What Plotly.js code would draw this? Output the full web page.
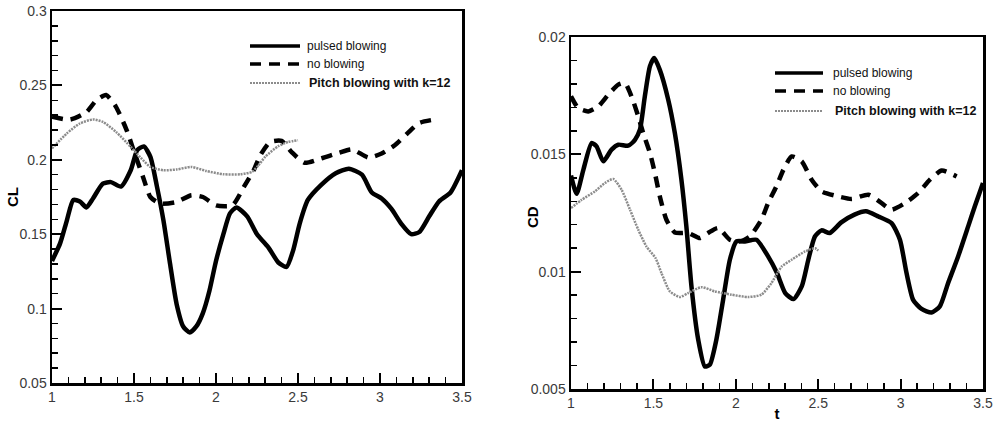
<!DOCTYPE html>
<html>
<head>
<meta charset="utf-8">
<script src="https://cdn.plot.ly/plotly-3.0.1.min.js"></script>
<style>
html,body{margin:0;padding:0;background:#fff;}
#chart{width:1003px;height:422px;}
</style>
</head>
<body>
<div id="chart"></div>
<script>
// ---- Left panel: lift coefficient CL ----
const clPulsedT = [1.0,1.05,1.09,1.13,1.17,1.21,1.25,1.31,1.36,1.42,1.48,1.52,1.56,1.60,1.64,1.68,1.72,1.76,1.80,1.84,1.88,1.92,1.96,2.0,2.045,2.085,2.125,2.19,2.25,2.32,2.38,2.43,2.47,2.51,2.56,2.64,2.73,2.81,2.89,2.95,3.01,3.07,3.13,3.19,3.24,3.30,3.36,3.43,3.5];
const clPulsedV = [0.132,0.144,0.159,0.173,0.172,0.168,0.174,0.184,0.185,0.182,0.193,0.2065,0.209,0.202,0.182,0.159,0.130,0.103,0.088,0.084,0.088,0.097,0.112,0.132,0.150,0.164,0.168,0.162,0.150,0.141,0.131,0.128,0.139,0.157,0.173,0.183,0.191,0.194,0.190,0.178,0.174,0.167,0.157,0.150,0.1515,0.162,0.172,0.178,0.193];

const clNoT = [1.0,1.11,1.21,1.27,1.33,1.39,1.455,1.505,1.555,1.60,1.66,1.76,1.85,1.92,2.0,2.10,2.17,2.23,2.27,2.33,2.40,2.46,2.54,2.64,2.75,2.83,2.93,3.01,3.09,3.17,3.24,3.335];
const clNoV = [0.229,0.227,0.232,0.240,0.2435,0.2356,0.220,0.204,0.1885,0.175,0.1706,0.1717,0.1762,0.175,0.1694,0.1694,0.1818,0.193,0.203,0.212,0.2127,0.2053,0.198,0.2009,0.2047,0.207,0.2015,0.2042,0.2098,0.2181,0.2248,0.2271];

const clPitchT = [1.0,1.09,1.17,1.25,1.31,1.39,1.48,1.54,1.60,1.68,1.76,1.85,1.94,2.045,2.15,2.22,2.26,2.30,2.38,2.44,2.50];
const clPitchV = [0.2076,0.2177,0.2244,0.2271,0.2255,0.2188,0.2087,0.2015,0.1952,0.193,0.1935,0.1952,0.1925,0.1903,0.1903,0.1919,0.1964,0.202,0.2092,0.212,0.2132];

// ---- Right panel: drag coefficient CD ----
const cdPulsedT = [1.0,1.034,1.075,1.125,1.155,1.196,1.246,1.287,1.347,1.388,1.418,1.448,1.479,1.505,1.539,1.59,1.63,1.67,1.70,1.731,1.772,1.812,1.842,1.882,1.923,1.964,2.004,2.055,2.125,2.196,2.25,2.30,2.35,2.40,2.44,2.48,2.52,2.57,2.64,2.72,2.79,2.865,2.945,2.996,3.036,3.076,3.127,3.188,3.238,3.288,3.349,3.41,3.45,3.5];
const cdPulsedV = [0.0141,0.01332,0.01434,0.01548,0.01534,0.0147,0.0152,0.01541,0.01537,0.01562,0.01605,0.01747,0.01875,0.0191,0.0186,0.01733,0.01591,0.01392,0.01193,0.00937,0.0071,0.00596,0.00603,0.0071,0.0088,0.01051,0.01129,0.01129,0.01136,0.01065,0.00994,0.00909,0.00883,0.00937,0.01051,0.0115,0.01176,0.01165,0.0121,0.01243,0.01257,0.01235,0.01207,0.01136,0.00994,0.0088,0.00841,0.00826,0.00852,0.00951,0.01065,0.01193,0.01278,0.01378];

const cdNoT = [1.0,1.044,1.105,1.165,1.226,1.287,1.327,1.367,1.408,1.438,1.479,1.509,1.539,1.579,1.63,1.711,1.782,1.832,1.893,1.964,2.024,2.085,2.155,2.196,2.246,2.289,2.339,2.40,2.46,2.521,2.602,2.703,2.804,2.885,2.945,3.026,3.107,3.178,3.249,3.34];
const cdNoV = [0.01747,0.01697,0.01683,0.01704,0.01754,0.01797,0.01804,0.01747,0.01662,0.01591,0.01506,0.0142,0.01321,0.01221,0.01167,0.01165,0.01143,0.01165,0.01186,0.01136,0.01129,0.0115,0.01221,0.01292,0.01363,0.01434,0.01491,0.0147,0.01392,0.01342,0.01324,0.0131,0.01328,0.01292,0.01264,0.01292,0.01335,0.01392,0.01431,0.01406];

const cdPitchT = [1.0,1.064,1.145,1.206,1.256,1.307,1.358,1.408,1.458,1.513,1.549,1.60,1.661,1.711,1.792,1.873,1.973,2.075,2.155,2.216,2.252,2.279,2.339,2.42,2.481,2.5];
const cdPitchV = [0.01271,0.01306,0.01342,0.01378,0.01395,0.01349,0.01264,0.01179,0.01107,0.01058,0.00994,0.00916,0.00892,0.00909,0.00934,0.00916,0.00902,0.00892,0.00902,0.00951,0.00994,0.01022,0.01051,0.01086,0.011,0.0109];

const seriesNames = ["pulsed blowing", "no blowing", "Pitch blowing with k=12"];
const yTitles = ["CL", "CD"];
const xTitle = "t";

const W = 1003, H = 422;
const styles = [
  {color:"#000", width:4.5, dash:"solid"},
  {color:"#000", width:4.5, dash:"11px,8px"},
  {color:"#8c8c8c", width:2.5, dash:"2px,1px"}
];

function tr(x, y, i, xa, ya) {
  return {x:x, y:y, type:"scatter", mode:"lines", name:seriesNames[i],
    xaxis:xa, yaxis:ya, showlegend:false, hoverinfo:"skip",
    line:{color:styles[i].color, width:styles[i].width, dash:styles[i].dash, shape:"spline", smoothing:0.6}};
}

const data = [
  tr(clPulsedT, clPulsedV, 0, "x", "y"),
  tr(clNoT, clNoV, 1, "x", "y"),
  tr(clPitchT, clPitchV, 2, "x", "y"),
  tr(cdPulsedT, cdPulsedV, 0, "x2", "y2"),
  tr(cdNoT, cdNoV, 1, "x2", "y2"),
  tr(cdPitchT, cdPitchV, 2, "x2", "y2")
];

const tickFont = {family:"Liberation Sans, Arial, sans-serif", size:14, color:"#3a3a3a"};
function xax(domain, anchor, title) {
  return {domain:domain, anchor:anchor, range:[1,3.5], dtick:0.5, tick0:1,
    showline:true, mirror:true, linecolor:"#000", linewidth:2.5,
    ticks:"inside", ticklen:10, tickwidth:2, tickcolor:"#000",
    minor:{dtick:0.1, ticks:"inside", ticklen:6, tickwidth:1.5, tickcolor:"#000"},
    showgrid:false, zeroline:false, tickfont:tickFont, automargin:false,
    title: title ? {text:title, font:{family:"Liberation Sans, Arial, sans-serif", size:15, color:"#000", weight:"bold"}, standoff:2} : undefined};
}
function yax(domain, anchor, range, dtick, mdtick) {
  return {domain:domain, anchor:anchor, range:range, dtick:dtick, tick0:range[0],
    showline:true, mirror:true, linecolor:"#000", linewidth:2.5,
    ticks:"inside", ticklen:10, tickwidth:2, tickcolor:"#000",
    minor:{dtick:mdtick, ticks:"inside", ticklen:6, tickwidth:1.5, tickcolor:"#000"},
    showgrid:false, zeroline:false, tickfont:tickFont, automargin:false};
}

const xd1 = [52/W, 462/W], yd1 = [(H-383)/H, (H-11)/H];
const xd2 = [571/W, 983/W], yd2 = [(H-389)/H, (H-37)/H];

// legend decorations (paper coords)
function legendBlock(x0, x1, tx, ys) {
  const shapes = [], anns = [];
  for (let i = 0; i < 3; i++) {
    shapes.push({type:"line", xref:"paper", yref:"paper", x0:x0/W, x1:x1/W, y0:1-ys[i]/H, y1:1-ys[i]/H,
      line:{color:styles[i].color, width:i==2?2:3.5, dash:styles[i].dash}});
    anns.push({xref:"paper", yref:"paper", x:(tx + (i==2?2:0))/W, y:1-ys[i]/H, xanchor:"left", yanchor:"middle",
      showarrow:false, text: i==2 ? "<b>"+seriesNames[i]+"</b>" : seriesNames[i],
      font:{family:"Liberation Sans, Arial, sans-serif", size: i==2?12.5:12, color:"#111"}});
  }
  return {shapes, anns};
}
const lg1 = legendBlock(250, 300, 305, [46, 64, 83]);
const lg2 = legendBlock(775, 823, 831, [73, 91, 111]);

const titleFont = {family:"Liberation Sans, Arial, sans-serif", size:15, color:"#000", weight:"bold"};
const annotations = lg1.anns.concat(lg2.anns).concat([
  {xref:"paper", yref:"paper", x:12/W, y:1-197/H, text:"<b>"+yTitles[0]+"</b>", textangle:-90, showarrow:false, font:titleFont, xanchor:"center", yanchor:"middle"},
  {xref:"paper", yref:"paper", x:532/W, y:1-217/H, text:"<b>"+yTitles[1]+"</b>", textangle:-90, showarrow:false, font:titleFont, xanchor:"center", yanchor:"middle"}
]);

const layout = {
  width:W, height:H, margin:{l:0, r:0, t:0, b:0},
  paper_bgcolor:"#fff", plot_bgcolor:"#fff", showlegend:false,
  xaxis: xax(xd1, "y"),
  yaxis: yax(yd1, "x", [0.05, 0.3], 0.05, 0.01),
  xaxis2: xax(xd2, "y2", xTitle),
  yaxis2: yax(yd2, "x2", [0.005, 0.02], 0.005, 0.001),
  shapes: lg1.shapes.concat(lg2.shapes),
  annotations: annotations
};

Plotly.newPlot("chart", data, layout, {staticPlot:true, displayModeBar:false});
</script>
</body>
</html>
